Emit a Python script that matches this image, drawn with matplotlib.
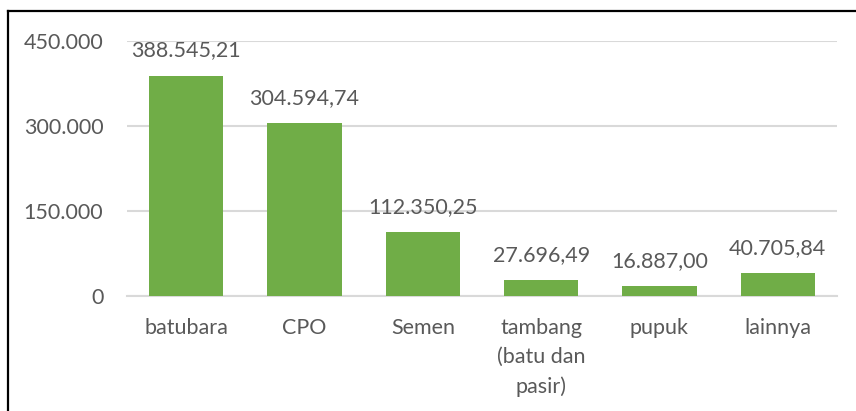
import matplotlib.pyplot as plt
from matplotlib.lines import Line2D

categories = ['batubara', 'CPO', 'Semen', 'tambang\n(batu dan\npasir)', 'pupuk', 'lainnya']
values = [388545.21, 304594.74, 112350.25, 27696.49, 16887.00, 40705.84]
yticks = [0, 150000, 300000, 450000]


def fmt_id(v, dec=2):
    # Indonesian style: "." for thousands, "," for decimals
    s = f"{v:,.{dec}f}"
    return s.replace(',', '#').replace('.', ',').replace('#', '.')


plt.rcParams['font.family'] = ['Lato', 'DejaVu Sans']
text_color = '#595959'
fs = 15.5

fig = plt.figure(figsize=(8.56, 4.11), dpi=100)
ax = fig.add_axes([127 / 856, 1 - 296 / 411, (837 - 127) / 856, (296 - 41) / 411])

x = range(len(categories))
bars = ax.bar(x, values, width=0.63, color='#70AD47', zorder=3)

for b, v in zip(bars, values):
    ax.annotate(fmt_id(v), (b.get_x() + b.get_width() / 2, v),
                xytext=(0, 11), textcoords='offset points',
                ha='center', va='bottom', fontsize=fs, color=text_color)

ax.set_ylim(0, 450000)
ax.set_xlim(-0.5, len(categories) - 0.5)
ax.set_yticks(yticks)
ax.set_yticklabels([fmt_id(t, 0) for t in yticks], fontsize=fs, color=text_color)
ax.set_xticks(list(x))
ax.set_xticklabels(categories, fontsize=fs, color=text_color, linespacing=1.55)
ax.tick_params(axis='both', length=0)
ax.tick_params(axis='y', pad=17)
ax.tick_params(axis='x', pad=16)

ax.grid(axis='y', color='#D9D9D9', linewidth=1.5, zorder=0)
for s in ['top', 'right', 'left']:
    ax.spines[s].set_visible(False)
ax.spines['bottom'].set_color('#D9D9D9')
ax.spines['bottom'].set_linewidth(1.5)

# outer frame (left and top edges visible in the crop)
fig.add_artist(Line2D([8 / 856, 8 / 856], [0, 1 - 11 / 411], color='black', linewidth=1.6))
fig.add_artist(Line2D([8 / 856, 1], [1 - 11 / 411, 1 - 11 / 411], color='black', linewidth=1.6))

fig.savefig('out.png', dpi=100)
